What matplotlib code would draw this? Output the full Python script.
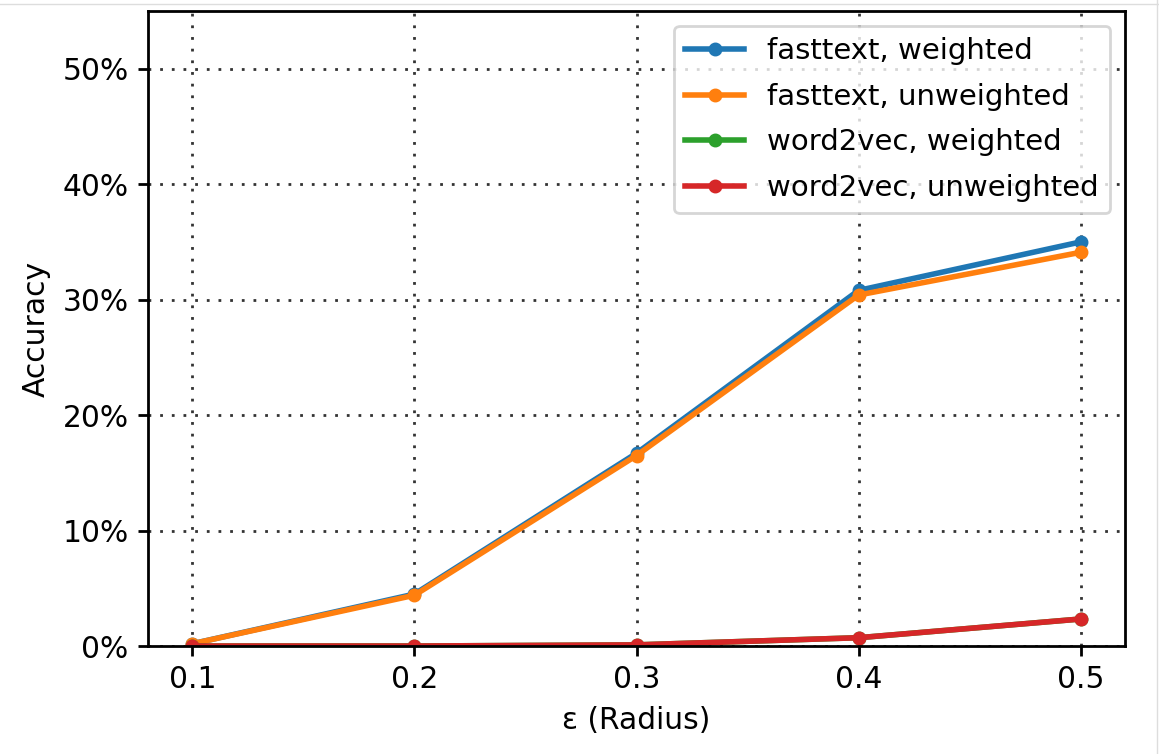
import matplotlib
matplotlib.use("Agg")
import matplotlib.pyplot as plt
from matplotlib.ticker import PercentFormatter
from matplotlib.lines import Line2D

radius = [0.1, 0.2, 0.3, 0.4, 0.5]
fasttext_weighted = [0.002, 0.045, 0.167, 0.308, 0.350]
fasttext_unweighted = [0.002, 0.044, 0.165, 0.304, 0.341]
word2vec_weighted = [0.0, 0.0, 0.001, 0.0072, 0.0234]
word2vec_unweighted = [0.0, 0.0, 0.001, 0.0072, 0.0234]

series = [
    ("fasttext, weighted", fasttext_weighted, "#1f77b4"),
    ("fasttext, unweighted", fasttext_unweighted, "#ff7f0e"),
    ("word2vec, weighted", word2vec_weighted, "#2ca02c"),
    ("word2vec, unweighted", word2vec_unweighted, "#d62728"),
]

plt.rcParams["font.family"] = "DejaVu Sans"
plt.rcParams["font.size"] = 10.7
plt.rcParams["axes.linewidth"] = 1.0
plt.rcParams["xtick.major.width"] = 1.0
plt.rcParams["ytick.major.width"] = 1.0

fig = plt.figure(figsize=(5.795, 3.77), dpi=200)
ax = fig.add_axes([0.1277, 0.1432, 0.843, 0.8422])

for label, values, color in series:
    ax.plot(radius, values, marker="o", markersize=4, linewidth=2,
            color=color, label=label)

ax.set_ylim(0, 0.55)
ax.set_xticks(radius)
ax.set_yticks([0, 0.1, 0.2, 0.3, 0.4, 0.5])
ax.yaxis.set_major_formatter(PercentFormatter(1.0, decimals=0))
ax.grid(True, linestyle=(0, (1, 3.2)), color="#333333", linewidth=1.0)
ax.set_xlabel("ε (Radius)")
ax.set_ylabel("Accuracy")
ax.legend(loc="upper right", fontsize=10.5, labelspacing=0.6)

# thin frame lines along the top and right edges
fig.add_artist(Line2D([0, 1], [0.995, 0.995], transform=fig.transFigure,
                      color="#dddddd", linewidth=0.5))
fig.add_artist(Line2D([0.9985, 0.9985], [0, 1], transform=fig.transFigure,
                      color="#dddddd", linewidth=0.5))

fig.savefig("out.png", dpi=200)
